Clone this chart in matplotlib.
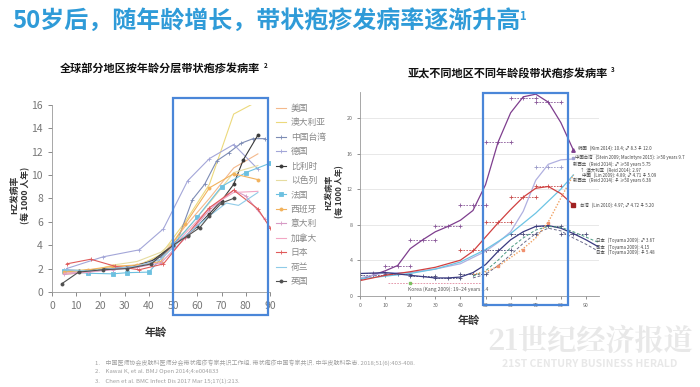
"""带状疱疹发病率幻灯片复刻: 左图为全球分年龄发病率, 右图为亚太地区拟合曲线。"""

import matplotlib
matplotlib.use("Agg")
import matplotlib.pyplot as plt
from matplotlib.patches import Rectangle

plt.rcParams["font.family"] = ["Noto Sans CJK SC", "DejaVu Sans"]

# ---------------------------------------------------------------------------
# 调色板
# ---------------------------------------------------------------------------
TITLE_BLUE = "#2f9bd8"
BOX_BLUE = "#4a86d8"
TICK_GRAY = "#777777"

# ---------------------------------------------------------------------------
# 左图数据: 各国家/地区 (年龄, 每1000人年发病率)
# ---------------------------------------------------------------------------
countries = ["美国", "澳大利亚", "中国台湾", "德国", "比利时", "以色列", "法国",
             "西班牙", "意大利", "加拿大", "日本", "荷兰", "英国"]

us_age = [5, 15, 25, 35, 45, 55, 65, 75, 85]
us_val = [1.6, 1.8, 2.1, 2.3, 3.0, 5.6, 8.0, 10.6, 11.8]
au_age = [5, 15, 25, 35, 45, 55, 65, 75, 85]
au_val = [1.8, 1.9, 2.0, 2.2, 3.2, 6.0, 9.2, 15.2, 16.3]
tw_age = [5, 15, 25, 35, 45, 52, 58, 63, 68, 73, 78, 83, 88]
tw_val = [1.9, 1.8, 2.0, 2.2, 3.0, 4.5, 7.9, 9.2, 11.2, 11.9, 12.7, 13.1, 13.1]
de_age = [6, 21, 36, 46, 56, 65, 75, 85]
de_val = [2.0, 3.0, 3.6, 5.4, 9.5, 11.4, 12.6, 10.5]
be_age = [11, 21, 31, 41, 50, 56, 60, 65, 70, 75, 79, 85]
be_val = [1.8, 1.95, 2.1, 2.6, 4.0, 4.9, 5.6, 6.7, 7.8, 9.2, 11.3, 13.4]
il_age = [5, 15, 25, 35, 45, 55, 65, 75, 85]
il_val = [1.5, 1.7, 2.3, 2.6, 3.4, 5.2, 7.6, 10.2, 10.8]
fr_age = [5, 15, 25, 31, 40, 50, 60, 70, 80, 90]
fr_val = [1.8, 1.6, 1.55, 1.65, 1.7, 4.0, 6.4, 9.0, 10.2, 11.0]
es_age = [5, 15, 25, 35, 45, 55, 65, 75, 85]
es_val = [1.7, 1.9, 2.2, 2.3, 2.6, 5.8, 8.9, 10.1, 9.6]
it_age = [5, 15, 25, 35, 45, 55, 65, 75, 80, 88]
it_val = [1.5, 1.7, 1.9, 2.1, 2.5, 4.6, 7.0, 8.7, 8.2, 6.2]
ca_age = [5, 15, 25, 35, 45, 55, 65, 75, 85]
ca_val = [1.6, 1.7, 2.0, 2.2, 2.8, 5.0, 7.2, 8.5, 8.6]
jp_age = [6, 16, 26, 36, 46, 55, 65, 75, 85, 90]
jp_val = [2.4, 2.8, 2.2, 1.9, 2.4, 4.7, 7.2, 8.7, 7.1, 5.5]
nl_age = [5, 15, 25, 35, 45, 55, 65, 72, 77, 85]
nl_val = [1.9, 1.8, 2.0, 2.2, 2.8, 4.8, 6.5, 7.6, 7.4, 8.5]
uk_age = [4, 11, 21, 31, 41, 50, 56, 61, 65, 70, 75]
uk_val = [0.7, 1.7, 1.9, 2.0, 2.4, 4.0, 4.8, 5.5, 6.5, 7.6, 8.0]

left_series = [
    (us_age, us_val, "#f4b98c", ""),
    (au_age, au_val, "#ecd97c", ""),
    (tw_age, tw_val, "#7d8cb4", "+"),
    (de_age, de_val, "#a3a6d8", "+"),
    (be_age, be_val, "#3a3a3a", "o"),
    (il_age, il_val, "#e6dca0", ""),
    (fr_age, fr_val, "#6cc0e0", "s"),
    (es_age, es_val, "#f2b25c", "o"),
    (it_age, it_val, "#d79bc6", "+"),
    (ca_age, ca_val, "#f2a6c4", ""),
    (jp_age, jp_val, "#e05a5a", "+"),
    (nl_age, nl_val, "#8fcbe8", ""),
    (uk_age, uk_val, "#505050", "o"),
]

# ---------------------------------------------------------------------------
# 右图数据: 拟合曲线与分年龄段观测点
# ---------------------------------------------------------------------------
kr_curve_age = [0, 5, 10, 15, 20, 25, 30, 35, 40, 45, 50, 55, 60, 65, 70, 75, 80, 85]
kr_curve_val = [1.8, 2.3, 2.8, 3.4, 5.3, 6.3, 7.2, 7.8, 8.5, 9.6, 12.5, 17.3,
                20.6, 22.4, 22.7, 21.8, 19.5, 16.4]
kr_pt_age = [5, 15, 25, 35, 45, 55, 65, 75]
kr_pt_val = [2.6, 3.3, 6.3, 7.8, 10.2, 17.3, 22.3, 21.8]

twn_curve_age = [0, 10, 20, 30, 40, 50, 55, 60, 65, 70, 75, 80, 85]
twn_curve_val = [2.0, 2.6, 2.6, 3.0, 3.6, 5.0, 6.0, 7.2, 9.5, 13.0, 14.8, 15.3, 15.4]
twn_pt_age = [75]
twn_pt_val = [14.5]

nz_curve_age = [0, 10, 20, 30, 40, 50, 60, 70, 80, 85]
nz_curve_val = [1.9, 2.2, 2.5, 3.0, 3.8, 5.2, 7.0, 9.3, 12.0, 13.6]

tl_curve_age = [0, 10, 20, 30, 40, 45, 50, 55, 60, 65, 70, 75, 80, 85]
tl_curve_val = [1.7, 2.3, 2.7, 3.2, 4.0, 5.0, 6.6, 8.2, 9.7, 11.1, 12.1, 12.3, 11.5, 10.2]
tl_pt_age = [45, 55, 65, 75]
tl_pt_val = [5.2, 8.3, 11.1, 12.3]

jp_curve_age = [0, 10, 20, 30, 35, 40, 45, 50, 55, 60, 65, 70, 75, 80, 85, 90, 95]
jp_curve_val = [2.5, 2.6, 2.3, 2.0, 2.0, 2.1, 2.6, 3.5, 5.0, 6.3, 7.2, 7.8, 7.9,
                7.6, 7.0, 6.3, 5.5]
jp_pt_age = [5, 15, 25, 35, 45, 55, 65, 75, 85]
jp_pt_val = [2.3, 2.5, 2.2, 2.0, 2.5, 5.2, 6.9, 7.8, 7.0]
jpm_curve_age = [45, 50, 55, 60, 65, 70, 75, 80, 85, 90, 95]
jpm_curve_val = [2.2, 2.8, 4.0, 5.4, 6.5, 7.4, 7.8, 7.7, 7.2, 6.6, 6.0]
jpf_curve_age = [45, 50, 55, 60, 65, 70, 75, 80, 85, 90, 95]
jpf_curve_val = [2.0, 2.4, 3.4, 4.6, 5.9, 7.0, 7.6, 7.3, 6.5, 5.8, 5.0]

cn_curve_age = [45, 50, 55, 60, 65, 70, 75, 80, 85]
cn_curve_val = [2.4, 2.7, 3.3, 4.3, 5.3, 6.5, 8.3, 11.0, 13.6]
cn_pt_age = [55, 65, 75]
cn_pt_val = [3.3, 5.2, 8.2]

kang_age = [11, 48]
kang_val = [1.4, 1.4]

right_notes = [
    (87.0, 16.6, "韩国   (Kim 2014): 10.4; ♂ 8.3 ♀ 12.0"),
    (85.7, 15.6, "中国台湾   (Stein 2009; MacIntyre 2015): ≥50 years 9.7"),
    (84.7, 14.8, "新西兰   (Reid 2014): ♂ ≥50 years 5.75"),
    (87.6, 14.1, "↑  澳大利亚   (Reid 2014): 2.97"),
    (88.5, 13.6, "中国   (Lin 2009): 4.89; ♂ 4.71 ♀ 5.09"),
    (84.7, 13.0, "新西兰   (Reid 2014): ♀ ≥50 years 6.38"),
    (87.6, 10.2, "台湾   (Lin 2010): 4.97; ♂ 4.72 ♀ 5.20"),
    (94.0, 6.2, "日本   (Toyama 2009): ♂ 3.67"),
    (94.0, 5.5, "日本   (Toyama 2009): 4.15"),
    (94.0, 4.9, "日本   (Toyama 2009): ♀ 5.48"),
]

footnotes = [
    "1.    中国医师协会皮肤科医师分会带状疱疹专家共识工作组. 带状疱疹中国专家共识. 中华皮肤科杂志. 2018;51(6):403-408.",
    "2.    Kawai K, et al. BMJ Open 2014;4:e004833",
    "3.    Chen et al. BMC Infect Dis 2017 Mar 15;17(1):213.",
]


def draw_left(fig):
    ax = fig.add_axes([52 / 700, 1 - 292 / 387, 218 / 700, 187.3 / 387])
    for (age, val, color, mk), name in zip(left_series, countries):
        ax.plot(age, val, color=color, lw=0.8, marker=mk if mk else None,
                markersize=2.2, markeredgewidth=0.6, label=name)
    ax.set_xlim(0, 90)
    ax.set_ylim(0, 16)
    ax.set_xticks(range(0, 100, 10))
    ax.set_yticks(range(0, 18, 2))
    ax.tick_params(colors=TICK_GRAY, labelsize=7.5, length=3, width=0.6)
    for side in ("top", "right"):
        ax.spines[side].set_visible(False)
    for side in ("left", "bottom"):
        ax.spines[side].set_color("#999999")
        ax.spines[side].set_linewidth(0.6)
    ax.patch.set_alpha(0)

    ax.legend(loc="upper left", bbox_to_anchor=(276 / 700, 1 - 104 / 387),
              bbox_transform=fig.transFigure, frameon=False, fontsize=6.3,
              labelcolor="#888888", handlelength=1.1, handletextpad=0.6,
              labelspacing=0.62, borderpad=0, borderaxespad=0)

    fig.text(156 / 700, 1 - 332 / 387, "年龄", ha="center", va="center",
             fontsize=8, fontweight="bold", color="#333333")
    fig.text(20 / 700, 1 - 195 / 387, "HZ发病率\n(每 1000 人年)", rotation=90,
             ha="center", va="center", fontsize=6.3, fontweight="bold",
             color="#333333", linespacing=1.2)
    return ax


def draw_errbars(ax, ages, vals, color, half=5):
    for a, v in zip(ages, vals):
        ax.plot([a - half, a, a + half], [v, v, v], ls=(0, (2, 1.5)), lw=0.6,
                color=color, marker="+", markersize=2.5, markeredgewidth=0.6)


def draw_right(fig):
    ax = fig.add_axes([360 / 700, 1 - 295.7 / 387, 238.5 / 700, 204.2 / 387])
    ax.set_xlim(0, 95)
    ax.set_ylim(0, 23)
    ax.set_xticks(range(0, 100, 10))
    ax.set_yticks(range(0, 24, 4))
    ax.yaxis.grid(True, color="#e4e4e4", lw=0.6)
    ax.set_axisbelow(True)
    ax.tick_params(colors="#666666", labelsize=3.8, length=2, width=0.5)
    for side in ("top", "right"):
        ax.spines[side].set_visible(False)
    for side in ("left", "bottom"):
        ax.spines[side].set_color("#999999")
        ax.spines[side].set_linewidth(0.6)
    ax.patch.set_alpha(0)

    # 观测点(虚线表示年龄段范围)
    draw_errbars(ax, kr_pt_age, kr_pt_val, "#8a5a9a")
    draw_errbars(ax, twn_pt_age, twn_pt_val, "#9a9ac8")
    draw_errbars(ax, tl_pt_age, tl_pt_val, "#c85050")
    draw_errbars(ax, jp_pt_age, jp_pt_val, "#50507a")
    ax.plot(kang_age, kang_val, ls=(0, (2, 1.5)), lw=0.6, color="#e08aa0")
    ax.plot([20], [1.4], marker="s", markersize=1.8, color="#7cc060")
    ax.plot(cn_pt_age, cn_pt_val, ls="none", marker="s", markersize=2,
            color="#f09070")

    # 拟合曲线
    ax.plot(kr_curve_age, kr_curve_val, color="#7e3e8e", lw=0.9)
    ax.plot(twn_curve_age, twn_curve_val, color="#b0b0e0", lw=0.9)
    ax.plot(nz_curve_age, nz_curve_val, color="#6cc4e4", lw=0.9)
    ax.plot(tl_curve_age, tl_curve_val, color="#d04040", lw=0.9)
    ax.plot(jp_curve_age, jp_curve_val, color="#3a3a80", lw=0.9)
    ax.plot(jpm_curve_age, jpm_curve_val, color="#4a9a80", lw=0.7,
            ls=(0, (3, 2)))
    ax.plot(jpf_curve_age, jpf_curve_val, color="#6a6a8a", lw=0.7,
            ls=(0, (3, 2)))
    ax.plot(cn_curve_age, cn_curve_val, color="#f0a060", lw=1.0,
            ls=(0, (1, 1.2)))

    # 末端标记
    ax.plot([85], [16.4], marker="^", markersize=2.5, color="#7e3e8e")
    ax.plot([85], [15.5], marker="s", markersize=2, color="#a0a0d0")
    ax.plot([85], [10.2], marker="s", markersize=2.5, color="#a02020")

    for x, y, s in right_notes:
        ax.text(x, y, s, fontsize=3.2, color="#444444", va="center",
                ha="left", clip_on=False)
    ax.text(19, 0.75, "Korea (Kang 2009): 19–24 years 1.4", fontsize=3.6,
            color="#555555", va="center")

    fig.text(469 / 700, 1 - 320 / 387, "年龄", ha="center", va="center",
             fontsize=8, fontweight="bold", color="#333333")
    fig.text(334 / 700, 1 - 192 / 387, "HZ发病率\n(每 1000 人年)", rotation=90,
             ha="center", va="center", fontsize=5.8, fontweight="bold",
             color="#333333", linespacing=1.3)
    return ax


def main():
    fig = plt.figure(figsize=(7, 3.87), dpi=100)

    # 主标题
    fig.text(12 / 700, 1 - 21 / 387, "50岁后，随年龄增长，带状疱疹发病率逐渐升高",
             fontsize=17.3, fontweight="bold", color=TITLE_BLUE, va="center")
    fig.text(519 / 700, 1 - 16 / 387, "1", fontsize=8, fontweight="bold",
             color=TITLE_BLUE, va="center")

    fig.text(160 / 700, 1 - 68 / 387, "全球部分地区按年龄分层带状疱疹发病率",
             fontsize=8, fontweight="bold", color="#111111", ha="center",
             va="center")
    fig.text(264 / 700, 1 - 65 / 387, "2", fontsize=4.5, fontweight="bold",
             color="#111111", va="center")
    fig.text(508 / 700, 1 - 73 / 387, "亚太不同地区不同年龄段带状疱疹发病率",
             fontsize=8, fontweight="bold", color="#111111", ha="center",
             va="center")
    fig.text(611 / 700, 1 - 70 / 387, "3", fontsize=4.5, fontweight="bold",
             color="#111111", va="center")

    # 水印
    fig.text(590 / 700, 1 - 342 / 387, "21世纪经济报道", fontsize=21,
             fontweight="bold", color="#e8e8e8", ha="center", va="center",
             family=["Noto Serif CJK SC", "Noto Sans CJK SC", "DejaVu Sans"])
    fig.text(590 / 700, 1 - 364 / 387, "21ST CENTURY BUSINESS HERALD",
             fontsize=7.5, style="italic", fontweight="bold", color="#e8e8e8",
             ha="center", va="center")

    draw_left(fig)
    draw_right(fig)

    # 蓝色框 (50 岁以上区域)
    fig.patches.append(Rectangle((173 / 700, 1 - 315 / 387), 95 / 700, 217 / 387,
                                 transform=fig.transFigure, fill=False,
                                 edgecolor=BOX_BLUE, lw=1.6, zorder=5))
    fig.patches.append(Rectangle((483 / 700, 1 - 305 / 387), 85 / 700, 212 / 387,
                                 transform=fig.transFigure, fill=False,
                                 edgecolor=BOX_BLUE, lw=1.6, zorder=5))

    # 参考文献
    for i, note in enumerate(footnotes):
        fig.text(95 / 700, 1 - (363 + 9 * i) / 387, note, fontsize=4.3,
                 color="#a0a0a0", va="center")

    fig.savefig("out.png", dpi=100, facecolor="white")
    plt.close(fig)


if __name__ == "__main__":
    main()
